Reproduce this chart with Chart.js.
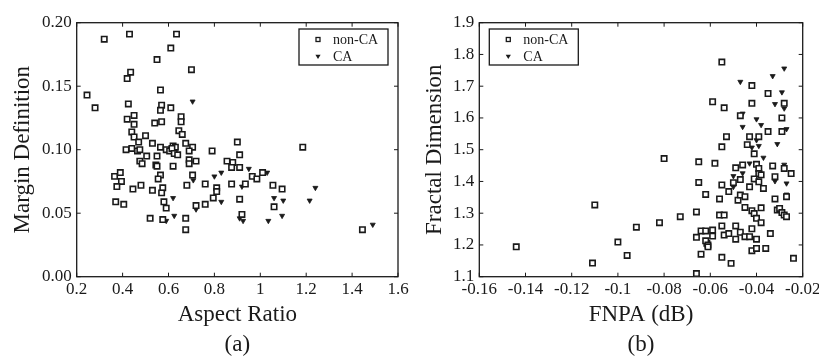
<!DOCTYPE html>
<html>
<head>
<meta charset="utf-8">
<script src="https://cdn.jsdelivr.net/npm/chart.js@4.4.1/dist/chart.umd.min.js"></script>
<style>
  html, body { margin: 0; padding: 0; background: #fff; }
  #wrap { position: relative; width: 819px; height: 363px; }
  .panel { position: absolute; top: 0; height: 363px; }
  #panelA { left: 0; width: 410px; }
  #panelB { left: 410px; width: 409px; }
</style>
</head>
<body>
<div id="wrap">
  <div class="panel" id="panelA"><canvas id="chartA" width="410" height="363"></canvas></div>
  <div class="panel" id="panelB"><canvas id="chartB" width="409" height="363"></canvas></div>
</div>
<script>
// ---- (a) Aspect Ratio vs Margin Definition ----
const nonCaAspect = [
  0.32, 0.43, 0.635, 0.61, 0.55, 0.70, 0.435, 0.42, 0.245, 0.28,
  0.565, 0.425, 0.57, 0.565, 0.61, 0.655, 0.655, 0.57, 0.54, 0.42,
  0.45, 0.45, 0.44, 0.45, 0.50, 0.645, 0.66, 0.47, 0.53, 0.675,
  0.705, 0.415, 0.44, 0.465, 0.475, 0.565, 0.59, 0.605, 0.62, 0.63,
  0.615, 0.625, 0.64, 0.69, 0.505, 0.55, 0.79, 0.475, 0.485, 0.545,
  0.55, 0.62, 0.69, 0.69, 0.72, 0.90, 0.91, 0.88, 0.875, 0.91,
  1.185, 0.855, 0.365, 0.39, 0.395, 0.375, 0.565, 0.555, 0.705, 0.48,
  0.445, 0.53, 0.575, 0.57, 0.68, 0.76, 0.795, 0.81, 0.81, 0.875,
  0.935, 0.965, 0.985, 1.01, 1.055, 1.095, 1.06, 0.91, 0.92, 0.37,
  0.405, 0.58, 0.59, 0.72, 0.76, 0.52, 0.575, 0.675, 0.675, 1.445
];
const nonCaMargin = [
  0.187, 0.191, 0.191, 0.180, 0.171, 0.163, 0.161, 0.156, 0.143, 0.133,
  0.147, 0.136, 0.135, 0.131, 0.133, 0.126, 0.122, 0.122, 0.121, 0.124,
  0.127, 0.120, 0.114, 0.110, 0.111, 0.115, 0.112, 0.106, 0.105, 0.105,
  0.102, 0.100, 0.101, 0.099, 0.100, 0.102, 0.100, 0.099, 0.103, 0.102,
  0.101, 0.097, 0.096, 0.099, 0.095, 0.095, 0.099, 0.091, 0.089, 0.088,
  0.087, 0.087, 0.092, 0.089, 0.091, 0.106, 0.096, 0.090, 0.086, 0.086,
  0.102, 0.091, 0.079, 0.082, 0.075, 0.071, 0.080, 0.077, 0.080, 0.072,
  0.069, 0.068, 0.070, 0.066, 0.072, 0.073, 0.062, 0.070, 0.067, 0.073,
  0.073, 0.079, 0.077, 0.082, 0.072, 0.069, 0.055, 0.061, 0.049, 0.059,
  0.057, 0.059, 0.054, 0.056, 0.057, 0.046, 0.045, 0.046, 0.037, 0.037
];
const caAspect = [
  0.705, 0.708, 0.62, 0.625, 0.59, 0.72, 0.83, 0.83, 0.95, 1.03,
  0.92, 1.06, 1.10, 1.095, 1.035, 0.925, 0.91, 1.24, 1.215, 1.49,
  0.68, 0.81, 0.855, 0.80
];
const caMargin = [
  0.138, 0.076, 0.062, 0.048, 0.044, 0.053, 0.082, 0.059, 0.085, 0.082,
  0.071, 0.062, 0.060, 0.048, 0.044, 0.044, 0.046, 0.070, 0.060, 0.041,
  0.072, 0.069, 0.091, 0.079
];
const aspectTicks = [0.2, 0.4, 0.6, 0.8, 1.0, 1.2, 1.4, 1.6];
const aspectTickLabels = ['0.2', '0.4', '0.6', '0.8', '1', '1.2', '1.4', '1.6'];
const marginTicks = [0, 0.05, 0.10, 0.15, 0.20];
const marginTickLabels = ['0.00', '0.05', '0.10', '0.15', '0.20'];

// ---- (b) FNPA vs Fractal Dimension ----
const nonCaFnpa = [
  -0.144, -0.110, -0.111, -0.100, -0.096, -0.092, -0.082, -0.080, -0.073, -0.066,
  -0.066, -0.065, -0.065, -0.066, -0.064, -0.064, -0.062, -0.062, -0.0615, -0.062,
  -0.061, -0.061, -0.059, -0.059, -0.059, -0.058, -0.056, -0.056, -0.055, -0.055,
  -0.054, -0.055, -0.055, -0.054, -0.055, -0.054, -0.053, -0.052, -0.052, -0.051,
  -0.050, -0.049, -0.049, -0.049, -0.048, -0.047, -0.047, -0.047, -0.046, -0.045,
  -0.045, -0.047, -0.045, -0.044, -0.043, -0.042, -0.042, -0.043, -0.043, -0.042,
  -0.042, -0.042, -0.041, -0.041, -0.041, -0.040, -0.040, -0.040, -0.040, -0.039,
  -0.039, -0.039, -0.039, -0.038, -0.038, -0.038, -0.037, -0.036, -0.035, -0.035,
  -0.034, -0.033, -0.032, -0.032, -0.031, -0.030, -0.029, -0.029, -0.029, -0.028,
  -0.028, -0.028, -0.027, -0.027, -0.025, -0.024
];
const nonCaFractal = [
  1.194, 1.326, 1.143, 1.209, 1.167, 1.256, 1.270, 1.472, 1.289, 1.110,
  1.304, 1.462, 1.397, 1.224, 1.244, 1.171, 1.359, 1.244, 1.205, 1.213,
  1.200, 1.194, 1.228, 1.247, 1.651, 1.457, 1.345, 1.294, 1.509, 1.776,
  1.632, 1.389, 1.260, 1.294, 1.161, 1.231, 1.541, 1.368, 1.236, 1.142,
  1.396, 1.260, 1.443, 1.218, 1.341, 1.357, 1.607, 1.406, 1.452, 1.352,
  1.318, 1.240, 1.226, 1.516, 1.541, 1.646, 1.702, 1.226, 1.383, 1.251,
  1.182, 1.308, 1.487, 1.408, 1.299, 1.284, 1.218, 1.189, 1.454, 1.441,
  1.425, 1.399, 1.541, 1.270, 1.317, 1.421, 1.378, 1.189, 1.557, 1.677,
  1.236, 1.449, 1.415, 1.345, 1.310, 1.315, 1.302, 1.557, 1.600, 1.646,
  1.441, 1.294, 1.352, 1.289, 1.425, 1.158
];
const caFnpa = [
  -0.047, -0.033, -0.028, -0.029, -0.032, -0.028, -0.046, -0.040, -0.038, -0.046,
  -0.027, -0.039, -0.031, -0.042, -0.037, -0.043, -0.028, -0.050, -0.046, -0.027,
  -0.032, -0.027, -0.033, -0.040, -0.050
];
const caFractal = [
  1.714, 1.732, 1.756, 1.681, 1.644, 1.630, 1.614, 1.596, 1.578, 1.572,
  1.565, 1.512, 1.518, 1.507, 1.475, 1.457, 1.453, 1.417, 1.426, 1.394,
  1.401, 1.359, 1.450, 1.530, 1.383
];
const fnpaTicks = [-0.16, -0.14, -0.12, -0.10, -0.08, -0.06, -0.04, -0.02];
const fnpaTickLabels = ['-0.16', '-0.14', '-0.12', '-0.1', '-0.08', '-0.06', '-0.04', '-0.02'];
const fractalTicks = [1.1, 1.2, 1.3, 1.4, 1.5, 1.6, 1.7, 1.8, 1.9];
const fractalTickLabels = ['1.1', '1.2', '1.3', '1.4', '1.5', '1.6', '1.7', '1.8', '1.9'];

const SERIF = "'Liberation Serif', 'DejaVu Serif', serif";
const INK = '#1a1a1a';
const H = 363;

const toPoints = (xs, ys) => xs.map((x, i) => ({ x: x, y: ys[i] }));

// box around the plot + inward ticks on all four sides
const framePlugin = {
  id: 'frame',
  beforeDatasetsDraw(chart) {
    const { ctx, chartArea: a, scales } = chart;
    const len = 4;
    ctx.save();
    ctx.strokeStyle = INK;
    ctx.lineWidth = 1.3;
    ctx.strokeRect(a.left, a.top, a.right - a.left, a.bottom - a.top);
    ctx.lineWidth = 1;
    ctx.beginPath();
    scales.x.ticks.forEach(t => {
      const px = scales.x.getPixelForValue(t.value);
      ctx.moveTo(px, a.bottom); ctx.lineTo(px, a.bottom - len);
      ctx.moveTo(px, a.top); ctx.lineTo(px, a.top + len);
    });
    scales.y.ticks.forEach(t => {
      const py = scales.y.getPixelForValue(t.value);
      ctx.moveTo(a.left, py); ctx.lineTo(a.left + len, py);
      ctx.moveTo(a.right, py); ctx.lineTo(a.right - len, py);
    });
    ctx.stroke();
    ctx.restore();
  }
};

// boxed legend in a corner of the plot
const legendBoxPlugin = {
  id: 'legendBox',
  afterDraw(chart, args, opts) {
    const { ctx, chartArea: a } = chart;
    const w = 89, h = 36;
    const x0 = opts.side === 'left' ? a.left + 10 : a.right - 10 - w;
    const y0 = a.top + 6.3;
    ctx.save();
    ctx.fillStyle = '#fff';
    ctx.fillRect(x0, y0, w, h);
    ctx.strokeStyle = INK;
    ctx.lineWidth = 1.3;
    ctx.strokeRect(x0, y0, w, h);
    ctx.font = '14px ' + SERIF;
    ctx.textBaseline = 'middle';
    chart.data.datasets.forEach((ds, i) => {
      const cy = y0 + 10.5 + i * 17;
      const mx = x0 + 19;
      if (ds.pointStyle === 'rect') {
        ctx.lineWidth = 1.3;
        ctx.strokeRect(mx - 2, cy - 2, 4, 4);
      } else {
        ctx.fillStyle = INK;
        ctx.beginPath();
        ctx.moveTo(mx - 2.6, cy - 1.8);
        ctx.lineTo(mx + 2.6, cy - 1.8);
        ctx.lineTo(mx, cy + 2.6);
        ctx.closePath();
        ctx.fill();
      }
      ctx.fillStyle = INK;
      ctx.fillText(ds.label, x0 + 34, cy + 1);
    });
    ctx.restore();
  }
};

function makeScatter(canvasId, cfg) {
  const width = document.getElementById(canvasId).width;
  return new Chart(document.getElementById(canvasId), {
    type: 'scatter',
    data: {
      datasets: [
        {
          label: 'non-CA',
          data: toPoints(cfg.nonX, cfg.nonY),
          pointStyle: 'rect',
          pointRadius: 3.8,
          borderWidth: 1.6,
          borderColor: INK,
          backgroundColor: '#fff'
        },
        {
          label: 'CA',
          data: toPoints(cfg.caX, cfg.caY),
          pointStyle: 'triangle',
          pointRotation: 180,
          pointRadius: 2.9,
          borderWidth: 0.8,
          borderColor: INK,
          backgroundColor: INK
        }
      ]
    },
    options: {
      responsive: false,
      animation: false,
      events: [],
      devicePixelRatio: 1,
      layout: { padding: { top: 22.7, right: width - cfg.areaRight, left: 0, bottom: 0 } },
      plugins: {
        legend: { display: false },
        tooltip: { enabled: false },
        legendBox: { side: cfg.legendSide }
      },
      scales: {
        x: {
          type: 'linear',
          min: cfg.xTicks[0],
          max: cfg.xTicks[cfg.xTicks.length - 1],
          afterBuildTicks: s => { s.ticks = cfg.xTicks.map(v => ({ value: v })); },
          afterFit: s => { s.height = H - 276.7; s.paddingLeft = 0; s.paddingRight = 0; },
          grid: { display: false, drawTicks: false },
          border: { display: false },
          ticks: {
            autoSkip: false,
            maxRotation: 0,
            padding: 3,
            color: INK,
            font: { family: SERIF, size: 17 },
            callback: (v, i) => cfg.xLabels[i]
          },
          title: {
            display: true,
            text: [cfg.xTitle, cfg.tag],
            color: INK,
            font: { family: SERIF, size: 23, lineHeight: 1.3 },
            padding: { top: 0, bottom: 3 }
          }
        },
        y: {
          type: 'linear',
          min: cfg.yTicks[0],
          max: cfg.yTicks[cfg.yTicks.length - 1],
          afterBuildTicks: s => { s.ticks = cfg.yTicks.map(v => ({ value: v })); },
          afterFit: s => { s.width = cfg.areaLeft; s.paddingTop = 0; s.paddingBottom = 0; },
          grid: { display: false, drawTicks: false },
          border: { display: false },
          ticks: {
            autoSkip: false,
            padding: 5,
            color: INK,
            font: { family: SERIF, size: 17 },
            callback: (v, i) => cfg.yLabels[i]
          },
          title: {
            display: true,
            text: cfg.yTitle,
            color: INK,
            font: { family: SERIF, size: 23 },
            padding: { top: cfg.yTitlePad, bottom: 0 }
          }
        }
      }
    },
    plugins: [framePlugin, legendBoxPlugin]
  });
}

makeScatter('chartA', {
  nonX: nonCaAspect, nonY: nonCaMargin, caX: caAspect, caY: caMargin,
  xTicks: aspectTicks, xLabels: aspectTickLabels,
  yTicks: marginTicks, yLabels: marginTickLabels,
  xTitle: 'Aspect Ratio', yTitle: 'Margin Definition', tag: '(a)',
  areaLeft: 76.7, areaRight: 398, yTitlePad: 9, legendSide: 'right'
});

makeScatter('chartB', {
  nonX: nonCaFnpa, nonY: nonCaFractal, caX: caFnpa, caY: caFractal,
  xTicks: fnpaTicks, xLabels: fnpaTickLabels,
  yTicks: fractalTicks, yLabels: fractalTickLabels,
  xTitle: 'FNPA (dB)', yTitle: 'Fractal Dimension', tag: '(b)',
  areaLeft: 69.3, areaRight: 392.7, yTitlePad: 11, legendSide: 'left'
});
</script>
</body>
</html>
